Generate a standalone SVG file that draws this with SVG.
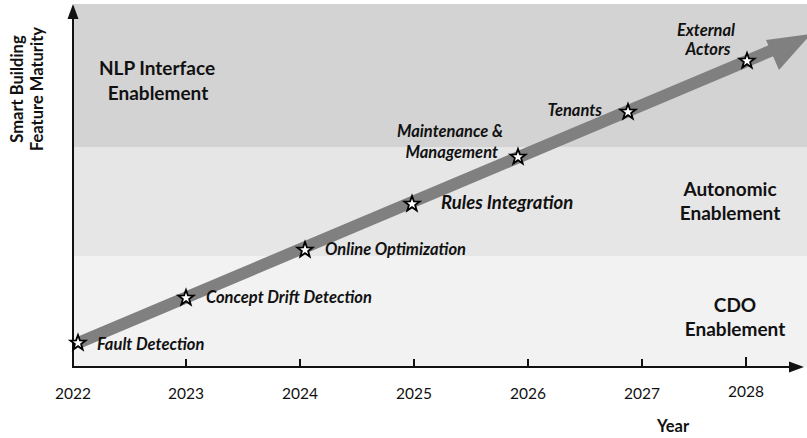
<svg xmlns="http://www.w3.org/2000/svg" width="807" height="438" viewBox="0 0 807 438">
<style>
.lab{font-family:Lato,"Open Sans",sans-serif;font-style:italic;font-weight:bold;font-size:16.5px;fill:#111}
.reg{font-family:Lato,"Open Sans",sans-serif;font-weight:bold;font-size:19px;fill:#111;text-anchor:middle}
.yr{font-family:Lato,"Open Sans",sans-serif;font-size:15.5px;fill:#111;text-anchor:middle}
.ax{font-family:Lato,"Open Sans",sans-serif;font-weight:bold;font-size:16.5px;fill:#111;text-anchor:middle}
.star{fill:#fff;stroke:#000;stroke-width:1.8;stroke-linejoin:miter}
.tick{stroke:#111;stroke-width:2}
</style>
<defs>
<polygon id="st" class="star" points="0,-8 1.9,-2.6 7.6,-2.5 3.1,1 4.7,6.5 0,3.2 -4.7,6.5 -3.1,1 -7.6,-2.5 -1.9,-2.6"/>
</defs>
<rect width="807" height="438" fill="#fff"/>
<g id="bands">
<rect x="74" y="4" width="733" height="143" fill="#d3d3d3"/>
<rect x="74" y="147" width="733" height="109" fill="#e6e6e6"/>
<rect x="74" y="256" width="733" height="111" fill="#f2f2f2"/>
</g>
<g id="regions">
<text class="reg" x="157" y="75">NLP Interface</text>
<text class="reg" x="158" y="100">Enablement</text>
<text class="reg" x="730" y="196">Autonomic</text>
<text class="reg" x="730" y="220">Enablement</text>
<text class="reg" x="735" y="312">CDO</text>
<text class="reg" x="735" y="336">Enablement</text>
</g>
<g id="axes">
<line x1="73" y1="368" x2="73" y2="16" stroke="#111" stroke-width="2"/>
<polygon points="73,4 67.5,19 78.5,19" fill="#111"/>
<line x1="72" y1="367" x2="792" y2="367" stroke="#111" stroke-width="2"/>
<polygon points="804,367 789,361.5 789,372.5" fill="#111"/>
<line class="tick" x1="186" y1="359" x2="186" y2="367"/>
<line class="tick" x1="300" y1="359" x2="300" y2="367"/>
<line class="tick" x1="414" y1="359" x2="414" y2="367"/>
<line class="tick" x1="528" y1="359" x2="528" y2="367"/>
<line class="tick" x1="642" y1="359" x2="642" y2="367"/>
<line class="tick" x1="746" y1="357" x2="746" y2="367"/>
<text class="yr" x="73" y="399">2022</text>
<text class="yr" x="186" y="399">2023</text>
<text class="yr" x="300" y="399">2024</text>
<text class="yr" x="414" y="399">2025</text>
<text class="yr" x="528" y="399">2026</text>
<text class="yr" x="642" y="399">2027</text>
<text class="yr" x="746" y="397">2028</text>
<text class="ax" x="673" y="432">Year</text>
<text class="ax" transform="translate(23,89) rotate(-90)">Smart Building</text>
<text class="ax" transform="translate(43,89) rotate(-90)">Feature Maturity</text>
</g>
<g id="connectors">
<line x1="78" y1="343" x2="775" y2="49" stroke="#808080" stroke-width="12"/>
<polygon points="811,34 766,40 779,70" fill="#808080"/>
</g>
<g id="n1"><use href="#st" x="78" y="343"/><text class="lab" x="97" y="350">Fault Detection</text></g>
<g id="n2"><use href="#st" x="186" y="298"/><text class="lab" x="206" y="303">Concept Drift Detection</text></g>
<g id="n3"><use href="#st" x="305" y="250"/><text class="lab" x="325" y="255">Online Optimization</text></g>
<g id="n4"><use href="#st" x="412" y="204"/><text class="lab" x="441" y="209" style="font-size:18.5px">Rules Integration</text></g>
<g id="n5"><use href="#st" x="518" y="157"/><text class="lab" x="503" y="137" text-anchor="end">Maintenance &amp;</text><text class="lab" x="498" y="158" text-anchor="end">Management</text></g>
<g id="n6"><use href="#st" x="628" y="112"/><text class="lab" x="602" y="116" text-anchor="end">Tenants</text></g>
<g id="n7"><use href="#st" x="747" y="61"/><text class="lab" x="706" y="36" text-anchor="middle">External</text><text class="lab" x="708" y="55" text-anchor="middle">Actors</text></g>
</svg>
